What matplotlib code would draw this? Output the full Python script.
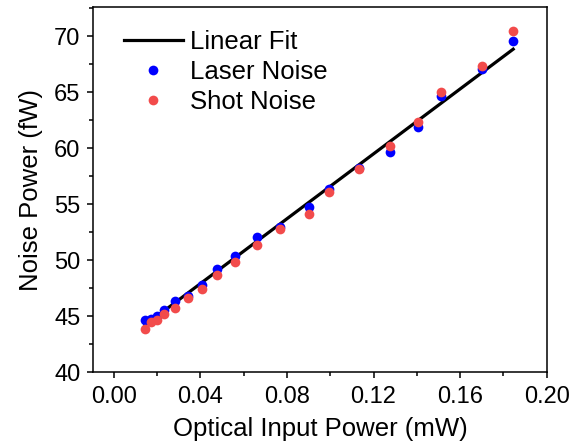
import numpy as np
import matplotlib
matplotlib.use("Agg")
import matplotlib.pyplot as plt
from matplotlib.ticker import MultipleLocator

plt.rcParams['font.family'] = ['Liberation Sans', 'DejaVu Sans']

# optical input power (mW)
power = [0.0145, 0.0172, 0.0199, 0.0234, 0.0281, 0.0342, 0.0407, 0.0479, 0.0561,
         0.0661, 0.0768, 0.0902, 0.0996, 0.1133, 0.1276, 0.1404, 0.1510, 0.1702, 0.1845]
# noise power (fW)
laser_noise = [44.67, 44.75, 44.97, 45.57, 46.34, 46.79, 47.81, 49.24, 50.34,
               52.02, 52.97, 54.70, 56.31, 58.20, 59.68, 61.87, 64.67, 67.06, 69.53]
shot_noise = [43.87, 44.46, 44.61, 45.21, 45.75, 46.64, 47.45, 48.64, 49.83,
              51.33, 52.76, 54.10, 56.05, 58.13, 60.19, 62.32, 65.06, 67.38, 70.49]

x = np.array(power)
slope, intercept = np.polyfit(x, np.array(laser_noise), 1)
xfit = np.array([x.min(), x.max()])

fig = plt.figure(figsize=(5.86, 4.45), dpi=100)
ax = fig.add_axes([0.159, 0.164, 0.774, 0.82])

ax.plot(xfit, slope * xfit + intercept, color='black', lw=2.3, label='Linear Fit', zorder=2)
ax.plot(x, laser_noise, 'o', color='#0000FF', ms=7, mec='none', label='Laser Noise', zorder=3)
ax.plot(x, shot_noise, 'o', color='#F24B4B', ms=7, mec='none', label='Shot Noise', zorder=4)

ax.set_xlim(-0.0095, 0.20)
ax.set_ylim(40, 72.6)
ax.set_xticks([0.00, 0.04, 0.08, 0.12, 0.16, 0.20])
ax.set_xticklabels(['0.00', '0.04', '0.08', '0.12', '0.16', '0.20'])
ax.set_yticks([40, 45, 50, 55, 60, 65, 70])
ax.xaxis.set_minor_locator(MultipleLocator(0.02))
ax.yaxis.set_minor_locator(MultipleLocator(2.5))
ax.tick_params(which='both', direction='out', width=1.1, labelsize=17, top=False, right=False)
ax.tick_params(which='major', length=4.3)
ax.tick_params(axis='x', which='major', pad=5.5)
ax.tick_params(axis='y', which='major', pad=5)
ax.tick_params(which='minor', length=2.9)
for s in ax.spines.values():
    s.set_linewidth(1.1)

ax.set_xlabel('Optical Input Power (mW)', fontsize=18.5, labelpad=7)
ax.set_ylabel('Noise Power (fW)', fontsize=18.5, labelpad=8)

ax.legend(loc='upper left', frameon=False, fontsize=18.5, handlelength=2.3,
          handletextpad=0.3, labelspacing=0.22, borderaxespad=0.2,
          bbox_to_anchor=(0.033, 0.979))

fig.savefig('out.png', dpi=100)
